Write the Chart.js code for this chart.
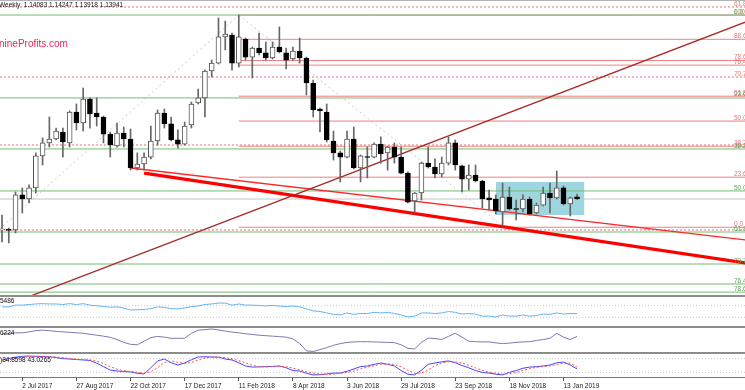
<!DOCTYPE html>
<html><head><meta charset="utf-8">
<script src="https://cdn.jsdelivr.net/npm/chart.js@4.4.1/dist/chart.umd.min.js"></script>
<style>
html,body{margin:0;padding:0;background:#fff;}
#wrap{position:relative;width:745px;height:390px;overflow:hidden;background:#fff;}
canvas{position:absolute;left:0;}
.sep{position:absolute;left:0;width:745px;background:#8c8c8c;}
</style></head><body>
<div id="wrap">
 <div class="sep" style="top:0;height:1px;background:#b4b4b4"></div>
 <canvas id="cMain" width="745" height="294" style="top:1px"></canvas>
 <div class="sep" style="top:295px;height:2px"></div>
 <canvas id="cA" width="745" height="29" style="top:297px"></canvas>
 <div class="sep" style="top:326px;height:2px"></div>
 <canvas id="cB" width="745" height="24" style="top:328px"></canvas>
 <div class="sep" style="top:352px;height:2px"></div>
 <canvas id="cC" width="745" height="36" style="top:354px"></canvas>
</div>
<script>
// ---------------- data ----------------
const open  = [1.1199,1.1201,1.1199,1.1420,1.1394,1.1464,1.1666,1.1748,1.1773,1.1817,1.1748,1.1943,1.1874,1.2025,1.1937,1.1912,1.1804,1.1729,1.1811,1.1773,1.1590,1.1615,1.1659,1.1760,1.1937,1.1868,1.1767,1.1741,1.1861,1.2000,1.2032,1.2202,1.2252,1.2417,1.2429,1.2252,1.2404,1.2290,1.2347,1.2316,1.2284,1.2353,1.2316,1.2278,1.2328,1.2284,1.2126,1.1962,1.1943,1.1760,1.1685,1.1659,1.1773,1.1590,1.1659,1.1659,1.1741,1.1685,1.1722,1.1659,1.1558,1.1382,1.1432,1.1621,1.1596,1.1552,1.1621,1.1748,1.1603,1.1520,1.1546,1.1508,1.1401,1.1394,1.1312,1.1407,1.1331,1.1331,1.1394,1.1306,1.1356,1.1432,1.1401,1.1464,1.1363,1.14083];
const high  = [1.1293,1.1211,1.1439,1.1464,1.1483,1.1685,1.1779,1.1912,1.1842,1.1842,1.1950,1.1994,1.2095,1.2032,1.2032,1.1918,1.1817,1.1874,1.1849,1.1836,1.1685,1.1685,1.1855,1.1956,1.1962,1.1912,1.1830,1.1880,1.2006,1.2088,1.2208,1.2271,1.2536,1.2517,1.2442,1.2555,1.2410,1.2353,1.2442,1.2385,1.2385,1.2480,1.2347,1.2353,1.2410,1.2290,1.2145,1.1968,1.1994,1.1823,1.1697,1.1823,1.1849,1.1672,1.1722,1.1748,1.1786,1.1728,1.1748,1.1722,1.1565,1.1436,1.1628,1.1722,1.1647,1.1659,1.1786,1.1767,1.1609,1.1609,1.1609,1.1512,1.1451,1.1420,1.1495,1.1470,1.1388,1.1420,1.1407,1.1369,1.1470,1.1495,1.1571,1.1476,1.1407,1.14247];
const low   = [1.1123,1.1117,1.1180,1.1306,1.1369,1.1432,1.1609,1.1722,1.1767,1.1659,1.1722,1.1830,1.1823,1.1842,1.1855,1.1748,1.1659,1.1722,1.1722,1.1577,1.1577,1.1577,1.1647,1.1735,1.1842,1.1760,1.1716,1.1735,1.1842,1.1994,1.1912,1.2164,1.2246,1.2335,1.2208,1.2227,1.2271,1.2158,1.2303,1.2271,1.2278,1.2316,1.2215,1.2271,1.2252,1.2051,1.1912,1.1817,1.1754,1.1640,1.1502,1.1653,1.1584,1.1502,1.1527,1.1653,1.1621,1.1577,1.1621,1.1552,1.1369,1.1306,1.1388,1.1590,1.1527,1.1533,1.1609,1.1577,1.1439,1.1451,1.1502,1.1338,1.1325,1.1300,1.1224,1.1325,1.1262,1.1312,1.1293,1.1300,1.1350,1.1306,1.1394,1.1356,1.1287,1.13918];
const close = [1.1202,1.1196,1.1420,1.1394,1.1464,1.1666,1.1748,1.1773,1.1823,1.1754,1.1943,1.1874,1.2025,1.1931,1.1912,1.1804,1.1735,1.1811,1.1773,1.1590,1.1615,1.1659,1.1760,1.1937,1.1868,1.1767,1.1741,1.1855,1.1994,1.2032,1.2202,1.2252,1.2417,1.2435,1.2252,1.2417,1.2290,1.2347,1.2316,1.2284,1.2353,1.2322,1.2271,1.2328,1.2284,1.2126,1.1956,1.1950,1.1767,1.1685,1.1659,1.1773,1.1590,1.1666,1.1656,1.1741,1.1678,1.1722,1.1659,1.1558,1.1375,1.1432,1.1621,1.1596,1.1552,1.1621,1.1748,1.1609,1.1520,1.1546,1.1508,1.1394,1.1388,1.1319,1.1407,1.1331,1.1328,1.1394,1.1300,1.1356,1.1432,1.1401,1.1464,1.1363,1.1401,1.13941];

const rsi = [66,66,72,72,74,76,77,76,76,74,77,74,77,72,70,67,65,66,62,55,56,57,60,66,64,60,59,62,67,69,74,76,79,79,72,76,72,72,71,69,71,69,67,69,66,59,52,50,45,40,38,45,40,43,43,47,45,47,43,38,31,34,45,45,43,45,50,47,41,43,41,34,34,31,38,34,34,38,34,36,41,40,45,41,43,43];
const osc2 = [78,78,80,80,84,89,91,89,86,84,82,80,78,74,70,66,61,52,40,32,30,45,60,65,62,57,57,57,78,91,93,96,92,87,83,80,76,73,70,68,66,64,62,55,35,5,2,10,18,28,35,40,42,43,43,42,41,40,39,30,15,13,40,58,56,52,65,78,62,45,43,42,42,38,35,37,40,42,43,48,52,57,78,62,52,65];
const stochMain = [74,80,86,90,91,90,89,88,84,80,78,76,74,72,60,45,30,26,24,22,16,13,40,70,78,62,52,61,75,87,88,87,86,78,74,62,48,43,44,45,46,48,40,28,26,16,9,10,13,17,17,25,35,45,48,55,61,55,48,28,12,9,30,55,61,66,70,62,50,40,28,20,17,12,9,20,28,38,43,45,48,52,62,65,52,34.86];
const stochSignal = [70,74,80,85,89,90,90,89,87,84,80,78,76,74,69,59,45,34,27,24,21,17,23,41,63,70,64,58,63,74,83,87,87,84,79,71,61,51,45,44,45,46,45,39,31,23,17,12,11,13,16,20,26,35,43,49,55,57,55,44,29,16,17,31,49,61,66,66,61,51,39,29,22,16,13,14,19,29,36,42,45,48,54,60,60,43.03];

const tickIdx = [3,11,19,27,35,43,51,59,67,75,83];
const tickLabels = ["2 Jul 2017","27 Aug 2017","22 Oct 2017","17 Dec 2017","11 Feb 2018","8 Apr 2018","3 Jun 2018","29 Jul 2018","23 Sep 2018","18 Nov 2018","13 Jan 2019"];

// horizontal levels (price)
const greenLevels  = [1.2555,1.2032,1.1710,1.1445,1.1186,1.0984,1.0858,1.0807];
const greenNames   = ["0.0","23.6","38.2","50.0","61.8","70.7","76.4","78.6"];
const redFibLevels = [1.2555,1.2402,1.2268,1.2239,1.2043,1.1886,1.1727,1.1532,1.1216];
const redFibNames  = ["100.0","88.6","78.6","76.4","61.8","50.0","38.2","23.6","0.0"];
const redDotLevels = [1.2606,1.2164,1.1735,1.1199];
const redDotNames  = ["61.8","70.7","",""];
const lastPrice = 1.13941;
const fibStart = 35;             // week index of the Feb 2018 top

// trend lines [week index, price]
const thickLine = [[21,1.1558],[110,1.0990]];
const thinLine  = [[19,1.1590],[110,1.1136]];
const brownLine = [[0,1.0713],[110,1.2512]];
const diagUp    = [[-23,1.0340],[35,1.2555]];
const diagDown  = [[35,1.2555],[74,1.1224]];
const boxWeeks  = [73,86.1];
const boxPrices = [1.1293,1.1502];

const rsiLevels = [70,30];
const stochLevels = [80,20];

// ---------------- layout constants ----------------
const X_MIN = -0.296, X_MAX = 109.83;
const P_MIN = 1.07885, P_MAX = 1.26437;
const FONT = '"Liberation Sans", Arial, sans-serif';

const weeks = open.map((_, i) => i);

function hLine(v, from, color, dash, width){
  return {type:'line', data:[{x:from,y:v},{x:X_MAX,y:v}], borderColor:color, borderWidth:width||1,
          borderDash:dash||[], pointRadius:0, fill:false, order:5};
}
function seg(pts, color, width, dash, order){
  return {type:'line', data:pts.map(p=>({x:p[0],y:p[1]})), borderColor:color, borderWidth:width,
          borderDash:dash||[], pointRadius:0, fill:false, order:order||3};
}

const datasets = [];
datasets.push({type:'line', data:[{x:boxWeeks[0],y:boxPrices[1]},{x:boxWeeks[1],y:boxPrices[1]}],
  fill:{value:boxPrices[0]}, backgroundColor:'rgb(158,214,224)', borderWidth:0, pointRadius:0, order:20});
greenLevels.forEach(v=>datasets.push(hLine(v, X_MIN, 'rgb(112,190,112)')));
redFibLevels.forEach(v=>datasets.push(hLine(v, fibStart, 'rgb(240,128,128)')));
redDotLevels.forEach(v=>datasets.push(hLine(v, X_MIN, 'rgb(236,110,120)', [2,2])));
datasets.push(hLine(lastPrice, X_MIN, 'rgb(196,196,196)'));
datasets.push(seg(diagUp, 'rgb(200,200,200)', 1, [2,3], 4));
datasets.push(seg(diagDown, 'rgb(200,200,200)', 1, [2,3], 4));
datasets.push(seg(brownLine, 'rgb(168,40,40)', 1.3, [], 3));
datasets.push(seg(thinLine, 'rgb(255,40,40)', 1.3, [], 3));
datasets.push(seg(thickLine, 'rgb(255,0,0)', 3.2, [], 3));
// candles
datasets.push({type:'bar', data:weeks.map(i=>({x:i,y:[low[i],high[i]]})), backgroundColor:'#666',
  borderWidth:0, barThickness:1, grouped:false, order:1});
datasets.push({type:'bar', data:weeks.map(i=>({x:i,y:[open[i],close[i]]})),
  backgroundColor:weeks.map(i=>close[i]>=open[i]?'#ffffff':'#000000'),
  borderColor:weeks.map(i=>close[i]>=open[i]?'#555':'#000'), borderWidth:1,
  borderSkipped:false, barThickness:5, grouped:false, minBarLength:1, order:0});

const fibLabels = [];
redFibLevels.forEach((v,i)=>fibLabels.push({v, t:redFibNames[i], c:'rgb(230,120,120)'}));
redDotLevels.forEach((v,i)=>{ if(redDotNames[i]) fibLabels.push({v, t:redDotNames[i], c:'rgb(230,120,120)'}); });
greenLevels.forEach((v,i)=>fibLabels.push({v, t:greenNames[i], c:'rgb(90,170,90)'}));

const mainText = {
  id:'mainText',
  afterDatasetsDraw(chart){
    const {ctx, scales:{y}} = chart;
    ctx.save();
    ctx.font = '6.5px ' + FONT; ctx.textBaseline = 'bottom'; ctx.textAlign='left';
    fibLabels.forEach(l=>{ ctx.fillStyle = l.c; ctx.fillText(l.t, 734, y.getPixelForValue(l.v)); });
    ctx.fillStyle = '#111'; ctx.textBaseline='middle';
    ctx.fillText('Weekly  1.14083 1.14247 1.13918 1.13941', -1, 4);
    ctx.font = '10px ' + FONT; ctx.fillStyle = 'rgb(232,40,84)';
    ctx.fillText('nineProfits.com', -1, 43);
    ctx.restore();
  }
};

const baseX = {type:'linear', min:X_MIN, max:X_MAX, display:false, offset:false, grid:{offset:false}};
const commonOpts = {responsive:false, animation:false, events:[], devicePixelRatio:1,
  layout:{padding:0}, plugins:{legend:{display:false}, tooltip:{enabled:false}}};

new Chart(document.getElementById('cMain'), {
  type:'bar',
  data:{datasets},
  options:{...commonOpts, scales:{x:baseX, y:{type:'linear', min:P_MIN, max:P_MAX, display:false}}},
  plugins:[mainText]
});

function labelPlugin(text, yPix){
  return {id:'lbl'+yPix, afterDatasetsDraw(chart){
    const ctx = chart.ctx; ctx.save(); ctx.font='6.5px '+FONT; ctx.fillStyle='#111';
    ctx.textBaseline='middle'; ctx.fillText(text, 0, yPix); ctx.restore(); }};
}
function lvl(v, color){ return {data:[{x:X_MIN,y:v},{x:X_MAX,y:v}], borderColor:color||'rgb(200,200,200)',
  borderWidth:1, borderDash:[1,2], pointRadius:0, order:5}; }
function series(vals, color, dash, w){ return {data:weeks.map(i=>({x:i,y:vals[i]})), borderColor:color,
  borderWidth:w||1, borderDash:dash||[], pointRadius:0, tension:0, order:1}; }

new Chart(document.getElementById('cA'), {
  type:'line',
  data:{datasets:[...rsiLevels.map(v=>lvl(v)), series(rsi,'rgb(100,180,240)')]},
  options:{...commonOpts, scales:{x:baseX, y:{min:0,max:100,display:false}}},
  plugins:[labelPlugin('5486', 4)]
});
new Chart(document.getElementById('cB'), {
  type:'line',
  data:{datasets:[series(osc2,'rgb(130,118,180)')]},
  options:{...commonOpts, scales:{x:baseX, y:{min:0,max:100,display:false}}},
  plugins:[labelPlugin('6224', 5)]
});
new Chart(document.getElementById('cC'), {
  type:'line',
  data:{datasets:[...stochLevels.map(v=>lvl(v)), series(stochSignal,'rgb(255,80,80)',[2,2]), series(stochMain,'rgb(70,70,255)')]},
  options:{...commonOpts, scales:{
    x:{type:'linear', min:X_MIN, max:X_MAX, offset:false,
       afterBuildTicks(s){ s.ticks = tickIdx.map(v=>({value:v})); },
       afterFit(s){ s.height = 13; },
       ticks:{autoSkip:false, maxRotation:0, align:'start', padding:1, color:'#222',
              font:{size:6.5, family:FONT}, callback:(v,i)=>tickLabels[i]},
       grid:{drawOnChartArea:false, tickLength:4, color:'#555'},
       border:{display:true, color:'#777', width:1}},
    y:{min:0,max:100,display:false}}},
  plugins:[labelPlugin(')34.8598 43.0265', 6)]
});
</script>
</body></html>
